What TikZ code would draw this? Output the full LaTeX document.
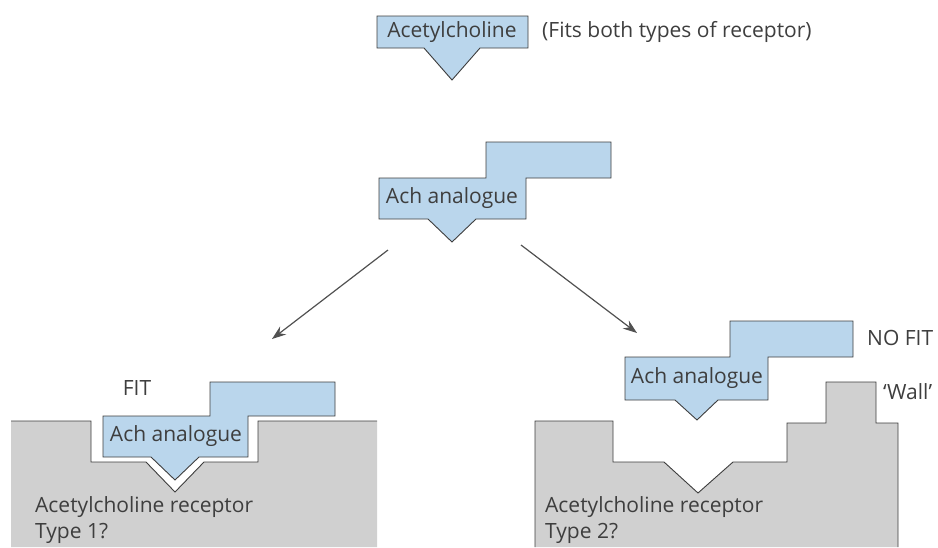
\documentclass[tikz,border=0pt]{standalone}
\usepackage{fontspec}
\setmainfont{Open Sans}
\usepackage{tikz}
\usetikzlibrary{arrows.meta}

\definecolor{achblue}{HTML}{BAD6EC}
\definecolor{recgrey}{HTML}{D0D0D0}
\definecolor{inkgrey}{HTML}{3E3E3E}

\begin{document}
\begin{tikzpicture}[
    x=1pt, y=-1pt,
    ach/.style={draw=inkgrey, fill=achblue, line width=0.9pt, line join=miter},
    receptor/.style={fill=recgrey},
    outline/.style={draw=inkgrey, line width=0.9pt},
    lbl/.style={text=inkgrey, font=\fontsize{21}{26}\selectfont, inner sep=0pt},
    arr/.style={draw=inkgrey!90, line width=1.2pt, -{Stealth[length=14pt, width=10pt]}}
]
    \useasboundingbox (0,0) rectangle (938,547);

    % Acetylcholine
    \draw[ach] (377,16) -- (528,16) -- (528,48) -- (480,48) -- (452,80) -- (424,48) -- (377,48) -- cycle;
    \node[lbl] (ach) at (452,32) {Acetylcholine};
    \node[lbl, anchor=west] (fits) at (542,32) {(Fits both types of receptor)};

    % Analogue
    \begin{scope}[shift={(379,178)}]
        \draw[ach] (0,0) -- (107,0) -- (107,-36) -- (232,-36) -- (232,0) -- (147,0) -- (147,41) -- (97,41) -- (73,64) -- (49,41) -- (0,41) -- cycle;
        \node[lbl] (ana) at (73,20) {Ach analogue};
    \end{scope}

    \coordinate (l1) at (388,250);
    \coordinate (l2) at (272,339);
    \coordinate (r1) at (521,245);
    \coordinate (r2) at (637,333);
    \draw[arr] (l1) -- (l2);
    \draw[arr] (r1) -- (r2);

    % Type 1
    \fill[receptor] (11,547) -- (11,421) -- (91,421) -- (91,462) -- (146,462) -- (175,492) -- (204,462) -- (258,462) -- (258,421) -- (377,421) -- (377,547) -- cycle;
    \draw[outline] (11,421) -- (91,421) -- (91,462) -- (146,462) -- (175,492) -- (204,462) -- (258,462) -- (258,421) -- (377,421);
    \begin{scope}[shift={(103,416)}]
        \draw[ach] (0,0) -- (107,0) -- (107,-34) -- (232,-34) -- (232,0) -- (145,0) -- (145,41) -- (96,41) -- (72,64) -- (48,41) -- (0,41) -- cycle;
        \node[lbl] (ana1) at (73,20) {Ach analogue};
    \end{scope}
    \node[lbl] (fit) at (137,388) {FIT};
    \node[lbl, anchor=west, align=left] (rec1) at (35,520) {Acetylcholine receptor\\Type 1?};

    % Type 2
    \draw[receptor, outline] (535,547) -- (535,421) -- (613,421) -- (613,462) -- (664,462) -- (698,493) -- (733,462) -- (787,462) -- (787,423) -- (826,423) -- (826,382) -- (876,382) -- (876,423) -- (898,423) -- (898,547);
    \begin{scope}[shift={(625,357)}]
        \draw[ach] (0,0) -- (105,0) -- (105,-36) -- (228,-36) -- (228,0) -- (143,0) -- (143,43) -- (93,43) -- (72,63) -- (50,43) -- (0,43) -- cycle;
        \node[lbl] (ana2) at (72,21) {Ach analogue};
    \end{scope}
    \node[lbl, anchor=west] (nofit) at (867,338) {NO FIT};
    \node[lbl, anchor=west] (wall) at (883,392) {`Wall'};
    \node[lbl, anchor=west, align=left] (rec2) at (545,520) {Acetylcholine receptor\\Type 2?};
\end{tikzpicture}
\end{document}
